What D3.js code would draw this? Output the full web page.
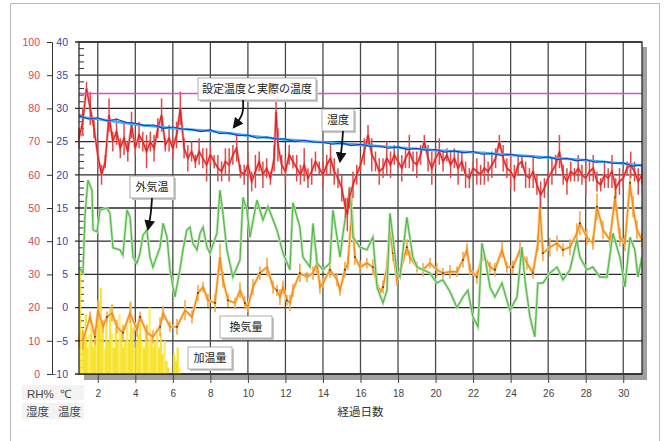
<!DOCTYPE html>
<html><head><meta charset="utf-8">
<script src="https://cdn.jsdelivr.net/npm/d3@7"></script>
<style>
html,body{margin:0;padding:0;background:#fff;}
svg text{font-family:"Liberation Sans",Arial,sans-serif;}
.jp{font-family:"Noto Sans CJK JP","Noto Sans",sans-serif;}
</style></head>
<body>
<script>
// ---- data ----
const dayTicks = [2,4,6,8,10,12,14,16,18,20,22,24,26,28,30];
const rhTicks = [0,10,20,30,40,50,60,70,80,90,100];
const tempTicks = [-10,-5,0,5,10,15,20,25,30,35,40];
const humiditySetpoint = 84.5;
const setTemp = [[1,28.7],[2,28.4],[4,27.6],[6,27.0],[8,26.6],[10,25.9],[12,25.3],[14,24.9],[16,24.5],[18,24.1],[20,23.7],[22,23.4],[24,23.0],[26,22.6],[28,22.2],[30,21.7],[31,21.4]];
const actualTemp = [[1,28.9],[1.5,28.4],[2,28.6],[2.5,28.1],[3,28.4],[3.5,27.9],[4,27.8],[4.5,27.4],[5,27.5],[5.5,27.0],[6,27.2],[6.5,26.9],[7,26.8],[7.5,26.5],[8,26.8],[8.5,26.2],[9,26.3],[9.5,25.9],[10,26.0],[10.5,25.5],[11,25.7],[11.5,25.4],[12,25.4],[12.5,25.0],[13,25.2],[13.5,24.9],[14,24.9],[14.5,24.6],[15,24.8],[15.5,24.4],[16,24.6],[16.5,24.3],[17,24.3],[17.5,24.0],[18,24.2],[18.5,23.8],[19,24.0],[19.5,23.7],[20,23.8],[20.5,23.4],[21,23.6],[21.5,23.3],[22,23.5],[22.5,23.1],[23,23.2],[23.5,22.9],[24,23.1],[24.5,22.8],[25,22.8],[25.5,22.5],[26,22.7],[26.5,22.3],[27,22.5],[27.5,22.1],[28,22.3],[28.5,21.9],[29,22.0],[29.5,21.7],[30,21.8],[30.5,21.3],[31,21.5]];
const humidity = [[1.0,71],[1.2,76],[1.4,86],[1.6,80],[1.8,74],[2.0,66],[2.2,60],[2.4,64],[2.6,78],[2.8,70],[3.0,73],[3.2,68],[3.4,71],[3.6,67],[3.8,75],[4.0,68],[4.2,72],[4.4,70],[4.6,67],[4.8,70],[5.0,68],[5.2,74],[5.4,78],[5.6,69],[5.8,71],[6.0,68],[6.2,72],[6.4,80],[6.6,68],[6.8,65],[7.0,67],[7.2,64],[7.4,67],[7.6,65],[7.8,63],[8.0,66],[8.2,64],[8.4,62],[8.6,61],[8.8,64],[9.0,63],[9.2,66],[9.4,68],[9.6,61],[9.8,60],[10.0,63],[10.2,58],[10.4,61],[10.6,64],[10.8,60],[11.0,62],[11.2,59],[11.4,65],[11.5,79],[11.6,69],[11.8,63],[12.0,61],[12.2,66],[12.4,64],[12.6,62],[12.8,60],[13.0,63],[13.2,59],[13.4,61],[13.6,64],[13.8,62],[14.0,60],[14.2,63],[14.4,65],[14.6,61],[14.8,59],[15.0,56],[15.2,50],[15.3,48],[15.4,53],[15.6,57],[15.8,60],[16.0,63],[16.2,67],[16.4,72],[16.6,66],[16.8,64],[17.0,61],[17.2,62],[17.4,65],[17.6,63],[17.8,66],[18.0,64],[18.2,62],[18.4,65],[18.6,67],[18.8,64],[19.0,63],[19.2,66],[19.4,70],[19.6,65],[19.8,62],[20.0,65],[20.2,67],[20.4,64],[20.6,66],[20.8,63],[21.0,65],[21.2,62],[21.4,64],[21.6,60],[21.8,59],[22.0,62],[22.2,61],[22.4,60],[22.6,62],[22.8,61],[23.0,63],[23.2,65],[23.4,70],[23.6,65],[23.8,62],[24.0,61],[24.2,59],[24.4,63],[24.6,64],[24.8,60],[25.0,59],[25.2,61],[25.4,57],[25.6,54],[25.8,56],[26.0,59],[26.2,61],[26.4,63],[26.6,67],[26.8,60],[27.0,58],[27.2,61],[27.4,60],[27.6,62],[27.8,60],[28.0,59],[28.2,61],[28.4,62],[28.6,58],[28.8,57],[29.0,60],[29.2,59],[29.4,61],[29.6,56],[29.8,58],[30.0,59],[30.2,62],[30.4,63],[30.6,61],[30.8,58],[31.0,60]];
const humiditySpread = [3,4,2,5,3,4,3,2,5,3, 4,3,5,3,4,2,4,3,5,3, 4,3,5,2,4,3,4,5,3,4, 3,2,4,3,5,3,2,4,3,4, 5,3,4,2,3,4,3,5,3,4, 3,2,4,3,5,3,4,3,2,4, 3,5,3,4,3,2,4,3,5,4, 3,4,3,5,3,4,3,2,4,3, 5,3,4,3,5,4,3,2,4,3, 5,3,4,3,2,4,5,3,4,3, 2,4,3,5,3,4,3,2,4,3, 5,3,4,3,2,4,3,5,4,3, 2,4,3,5,3,4,3,2,4,3, 5,3,4,3,2,4,3,5,3,4, 3,2,4,3,5,3,4,3,2,4, 3,4,3];
const outsideTemp = [[1.00,6.0],[1.21,5.2],[1.32,14.0],[1.48,19.2],[1.69,17.7],[1.75,11.7],[1.96,11.4],[2.12,14.7],[2.49,15.0],[2.65,14.2],[2.81,9.0],[3.18,8.7],[3.34,7.9],[3.56,14.7],[3.72,13.6],[3.88,7.6],[4.09,6.7],[4.25,8.2],[4.41,10.9],[4.62,11.7],[4.78,7.6],[4.94,6.1],[5.32,9.1],[5.48,12.7],[5.69,10.6],[5.85,5.7],[6.01,3.1],[6.11,1.6],[6.38,5.7],[6.54,8.7],[6.75,11.7],[6.91,12.1],[7.07,9.7],[7.29,8.7],[7.45,11.2],[7.61,12.1],[7.82,9.1],[7.98,8.2],[8.35,11.2],[8.51,17.7],[8.67,14.2],[8.88,8.7],[9.20,4.6],[9.58,7.2],[9.74,16.6],[9.95,14.7],[10.11,10.6],[10.48,16.2],[10.80,13.2],[11.07,15.2],[11.55,11.7],[11.87,8.2],[12.24,5.7],[12.40,15.8],[12.77,12.1],[12.93,7.6],[13.31,6.1],[13.47,12.7],[13.68,6.7],[14.00,5.7],[14.37,6.7],[14.53,14.7],[14.75,10.6],[14.91,7.6],[15.07,11.2],[15.44,18.2],[15.60,10.6],[15.97,9.1],[16.34,8.7],[16.66,10.6],[16.88,3.1],[17.20,0.7],[17.41,2.6],[17.57,14.2],[17.73,10.6],[17.94,5.2],[18.10,4.6],[18.47,13.6],[18.79,7.6],[19.01,6.1],[19.33,5.7],[19.70,5.2],[20.07,3.7],[20.39,4.2],[20.77,2.4],[21.14,0.0],[21.46,1.6],[21.72,2.6],[21.99,-1.4],[22.26,-2.9],[22.47,9.7],[22.63,7.6],[22.90,3.1],[23.16,1.6],[23.54,3.7],[23.80,1.1],[23.96,-0.4],[24.34,1.6],[24.60,9.1],[24.76,4.2],[25.03,-1.4],[25.29,-4.4],[25.45,3.7],[25.72,3.7],[26.09,5.2],[26.47,6.1],[26.79,4.2],[27.16,5.7],[27.53,10.2],[27.69,7.6],[28.06,5.7],[28.38,6.1],[28.76,4.6],[29.13,4.6],[29.45,11.2],[29.82,7.6],[30.09,3.1],[30.36,10.6],[30.62,8.7],[30.78,4.6],[31.00,7.6]];
const ventilation = [[1.00,-5.0],[1.21,-4.9],[1.59,-1.4],[1.85,-4.4],[2.01,-0.4],[2.28,-2.9],[2.49,-1.4],[2.76,-0.8],[3.02,-2.9],[3.34,-3.8],[3.72,-0.8],[4.09,-3.4],[4.25,-1.4],[4.62,-3.8],[4.94,-4.4],[5.32,-2.9],[5.48,-0.8],[5.85,-2.9],[6.22,-2.9],[6.65,-0.4],[7.02,-1.4],[7.34,2.2],[7.61,3.1],[7.87,1.1],[8.25,0.7],[8.51,7.6],[8.67,4.2],[8.94,1.1],[9.31,0.7],[9.58,2.6],[9.84,0.7],[10.00,0.1],[10.27,3.1],[10.64,5.2],[11.02,6.1],[11.34,3.1],[11.55,2.6],[11.71,1.6],[11.87,3.1],[12.08,1.1],[12.24,0.7],[12.40,2.6],[12.77,5.2],[13.15,4.6],[13.47,5.2],[13.68,6.7],[13.84,3.1],[14.00,3.7],[14.37,5.7],[14.75,4.2],[14.91,2.6],[15.17,5.7],[15.33,6.7],[15.54,14.7],[15.70,7.6],[15.97,6.1],[16.34,6.7],[16.66,6.1],[16.88,3.7],[17.04,2.2],[17.20,3.1],[17.41,6.1],[17.57,11.7],[17.73,8.2],[17.94,4.2],[18.10,5.2],[18.47,9.1],[18.63,7.6],[19.01,6.1],[19.33,5.7],[19.70,6.7],[20.07,5.7],[20.39,5.2],[20.77,5.4],[21.14,5.4],[21.46,7.2],[21.67,8.7],[21.83,5.7],[22.20,4.6],[22.52,8.2],[22.90,6.1],[23.16,5.7],[23.54,8.7],[23.80,6.1],[24.12,6.1],[24.50,8.7],[24.87,6.7],[25.19,5.2],[25.45,9.7],[25.56,15.2],[25.72,8.2],[26.09,9.1],[26.47,9.7],[26.79,8.7],[27.16,9.1],[27.53,11.2],[27.69,12.7],[28.06,10.6],[28.38,9.7],[28.60,15.2],[28.92,11.7],[29.29,10.2],[29.56,16.6],[29.82,10.6],[30.09,9.7],[30.36,18.8],[30.52,15.2],[30.73,11.7],[31.00,10.2]];
const ventilationSpread = [1.0,1.5,0.8,1.2,1.5,1.0,0.8,1.3,1.0,1.2, 1.5,1.0,0.8,1.2,1.0,1.4,1.0,0.8,1.2,1.5, 1.0,1.2,0.8,1.0,1.4,2.0,1.2,1.0,0.8,1.2, 1.0,0.8,1.2,1.0,1.4,1.0,0.8,1.2,1.0,0.8, 1.2,1.0,1.4,0.8,1.0,1.5,1.0,0.8,1.2,1.0, 0.8,1.2,1.0,2.0,1.2,1.0,0.8,1.2,1.0,0.8, 1.0,1.2,1.8,1.2,1.0,0.8,1.2,1.0,0.8,1.0, 0.8,1.0,0.8,1.0,0.8,1.2,1.0,0.8,1.0,1.2, 0.8,1.0,1.2,0.8,1.0,1.2,1.0,0.8,1.2,2.0, 1.2,1.4,1.2,1.0,1.2,1.5,1.8,1.2,1.0,2.0, 1.4,1.2,2.0,1.4,1.2,2.0,1.6,1.4,1.2];
const heatingDays = [1.0,1.1,1.2,1.3,1.4,1.5,1.6,1.7,1.8,1.9,2.0,2.1,2.2,2.3,2.4,2.5,2.6,2.7,2.8,2.9,3.0,3.1,3.2,3.3,3.4,3.5,3.6,3.7,3.8,3.9,4.0,4.1,4.2,4.3,4.4,4.5,4.6,4.7,4.8,4.9,5.0,5.1,5.2,5.3,5.4,5.5,5.6,5.7,5.8,5.9,6.0,6.1,6.2,6.3,6.4];
const heatingValues = [6,-3,-5,-1,-6,-4,-2,-6,-5,-3,1,3,-4,-6,-2,-5,0,-4,-6,-3,-5,-1,-4,-6,-5,-2,-5,1,-3,-6,-5,-4,-1,-5,-6,-3,-5,0,-4,-6,-5,-3,-6,-4,-7,-5,-8,-9,-10,-10,-7,-8,-6,-9,-10];
const notes = [
  {text:"設定温度と実際の温度", x:198, y:78, w:118, h:22, ax:[[243,100],[244,114],[234,127]]},
  {text:"湿度", x:322, y:109, w:32, h:22, ax:[[343,131],[342,146],[340,161]]},
  {text:"外気温", x:130, y:176, w:44, h:22, ax:[[152,198],[151,214],[148,229]]},
  {text:"換気量", x:220, y:316, w:52, h:22, ax:null},
  {text:"加温量", x:188, y:347, w:44, h:22, ax:null}
];

// ---- drawing ----
const W=670,H=441;
const svg=d3.select("body").append("svg").attr("width",W).attr("height",H);
const L=79,R=642,T=42,B=374;
const x=d3.scaleLinear().domain([1,31]).range([L,R]);
const yT=d3.scaleLinear().domain([-10,40]).range([B,T]);
const yRH=d3.scaleLinear().domain([0,100]).range([B,T]);

svg.append("path").attr("d",`M10.5,445 V3.5 H659.5 V445`).attr("fill","none").attr("stroke","#b8b8b8");

svg.append("rect").attr("x",L+5).attr("y",B).attr("width",R-L).attr("height",6).attr("fill","#a0a0a0");
svg.append("rect").attr("x",R).attr("y",T+5).attr("width",5).attr("height",B-T+1).attr("fill","#a0a0a0");
svg.append("rect").attr("x",L).attr("y",T).attr("width",R-L).attr("height",B-T).attr("fill","#fff");

const g=svg.append("g");
g.selectAll(".hg").data(tempTicks).join("line")
  .attr("x1",L-4).attr("x2",R).attr("y1",d=>yT(d)).attr("y2",d=>yT(d))
  .attr("stroke","#2a2a2a").attr("stroke-width",1.3);
g.selectAll(".vg").data(dayTicks).join("line")
  .attr("x1",d=>x(d)).attr("x2",d=>x(d)).attr("y1",T).attr("y2",B)
  .attr("stroke","#4a4a4a").attr("stroke-width",1.3);
g.selectAll(".mt").data(d3.range(-9,40,1).filter(v=>v%5!==0)).join("line")
  .attr("x1",L).attr("x2",L+5).attr("y1",d=>yT(d)).attr("y2",d=>yT(d))
  .attr("stroke","#333").attr("stroke-width",1);

// yellow heating bars
const bw=x(1.1)-x(1.0);
svg.append("g").selectAll("rect").data(heatingDays.map((d,i)=>[d,heatingValues[i]])).join("rect")
  .attr("x",d=>x(d[0])).attr("width",bw+0.4)
  .attr("y",d=>yT(d[1])).attr("height",d=>B-yT(d[1]))
  .attr("fill",(d,i)=>i%4===1?"#fbeb5a":"#f6e01c").attr("opacity",0.9);

const lineT=d3.line().x(d=>x(d[0])).y(d=>yT(d[1]));
const lineRH=d3.line().x(d=>x(d[0])).y(d=>yRH(d[1]));

function spreadBars(data, spread, yScale, color, width){
  svg.append("g").selectAll("line").data(data.map((d,i)=>[d[0],d[1],spread[i]])).join("line")
    .attr("x1",d=>x(d[0])).attr("x2",d=>x(d[0]))
    .attr("y1",d=>yScale(d[1]-d[2])).attr("y2",d=>yScale(d[1]+d[2]))
    .attr("stroke",color).attr("stroke-width",width);
}

// ventilation (orange)
svg.append("path").datum(ventilation).attr("d",lineT).attr("fill","none").attr("stroke","#fbd59a").attr("stroke-width",3);
spreadBars(ventilation, ventilationSpread, yT, "#f6a848", 1.6);
svg.append("path").datum(ventilation).attr("d",lineT).attr("fill","none").attr("stroke","#f28a18").attr("stroke-width",1.3);
svg.append("g").selectAll("circle").data(ventilation.filter((d,i)=>i%3===0)).join("circle")
  .attr("cx",d=>x(d[0])).attr("cy",d=>yT(d[1])).attr("r",0.9).attr("fill","#333");

// outside temp (green)
svg.append("path").datum(outsideTemp).attr("d",lineT).attr("fill","none").attr("stroke","#bfe5b6").attr("stroke-width",2.8);
svg.append("path").datum(outsideTemp).attr("d",lineT).attr("fill","none").attr("stroke","#55b84a").attr("stroke-width",1.2);

// humidity (red)
svg.append("path").datum(humidity).attr("d",lineRH).attr("fill","none").attr("stroke","#f3a4a4").attr("stroke-width",2.6);
spreadBars(humidity, humiditySpread, yRH, "#e24848", 1.5);
svg.append("path").datum(humidity).attr("d",lineRH).attr("fill","none").attr("stroke","#e41e1e").attr("stroke-width",1.2);

// temperatures (blue)
svg.append("path").datum(setTemp).attr("d",lineT).attr("fill","none").attr("stroke","#3cb2f2").attr("stroke-width",2.6);
svg.append("path").datum(actualTemp).attr("d",lineT).attr("fill","none").attr("stroke","#1c3cc4").attr("stroke-width",1.1);

// humidity setpoint (magenta)
svg.append("line").attr("x1",L).attr("x2",R).attr("y1",yRH(humiditySetpoint)).attr("y2",yRH(humiditySetpoint))
  .attr("stroke","#d452c4").attr("stroke-width",1.6);

svg.append("rect").attr("x",L).attr("y",T).attr("width",R-L).attr("height",B-T).attr("fill","none").attr("stroke","#2a2a2a").attr("stroke-width",1.3);

// axes
const aRH=svg.append("g").attr("transform","translate(52,0)")
  .call(d3.axisLeft(yRH).tickValues(rhTicks).tickSize(5).tickPadding(7));
aRH.select(".domain").attr("stroke","#333");
aRH.selectAll("line").attr("stroke","#333");
aRH.selectAll("text").attr("fill","#dc4456").attr("font-size",10.5);

const aT=svg.append("g").attr("transform",`translate(${L},0)`)
  .call(d3.axisLeft(yT).tickValues(tempTicks).tickSize(0).tickPadding(11));
aT.select(".domain").remove();
aT.selectAll("text").attr("fill","#3646a4").attr("font-size",10.5);

const aX=svg.append("g").attr("transform",`translate(0,${B})`)
  .call(d3.axisBottom(x).tickValues(dayTicks).tickSize(9).tickPadding(7));
aX.select(".domain").remove();
aX.selectAll("line").attr("stroke","#444");
aX.selectAll("text").attr("fill","#444").attr("font-size",10);

svg.append("rect").attr("x",22).attr("y",385).attr("width",62).attr("height",15).attr("fill","#f3f3f3");
svg.append("rect").attr("x",22).attr("y",403).attr("width",62).attr("height",16).attr("fill","#f3f3f3");
svg.append("text").attr("x",27).attr("y",398).attr("font-size",11.5).attr("fill","#444").text("RH%");
svg.append("text").attr("x",60).attr("y",398).attr("font-size",11.5).attr("fill","#444").text("℃");
svg.append("text").attr("class","jp").attr("x",26).attr("y",416).attr("font-size",11.5).attr("fill","#444").text("湿度");
svg.append("text").attr("class","jp").attr("x",58).attr("y",416).attr("font-size",11.5).attr("fill","#444").text("温度");
svg.append("text").attr("class","jp").attr("x",(L+R)/2).attr("y",416).attr("text-anchor","middle").attr("font-size",11.5).attr("fill","#333").text("経過日数");

// annotations
const defs=svg.append("defs");
defs.append("marker").attr("id","ah").attr("viewBox","0 0 10 10").attr("refX",8).attr("refY",5)
  .attr("markerWidth",6).attr("markerHeight",6).attr("orient","auto")
  .append("path").attr("d","M0,0 L10,5 L0,10 z").attr("fill","#111");
const ng=svg.append("g");
notes.forEach(n=>{
  ng.append("rect").attr("x",n.x+2).attr("y",n.y+2).attr("width",n.w).attr("height",n.h).attr("fill","#c8c8c8");
  ng.append("rect").attr("x",n.x).attr("y",n.y).attr("width",n.w).attr("height",n.h).attr("fill","#fff").attr("stroke","#9a9a9a").attr("stroke-width",0.8);
  ng.append("text").attr("class","jp").attr("x",n.x+n.w/2).attr("y",n.y+n.h/2+4).attr("text-anchor","middle")
    .attr("font-size",11).attr("fill","#222").text(n.text);
  if(n.ax){
    ng.append("path").attr("d",d3.line().curve(d3.curveBasis)(n.ax)).attr("fill","none")
      .attr("stroke","#111").attr("stroke-width",1.8).attr("marker-end","url(#ah)");
  }
});
</script>
</body></html>
